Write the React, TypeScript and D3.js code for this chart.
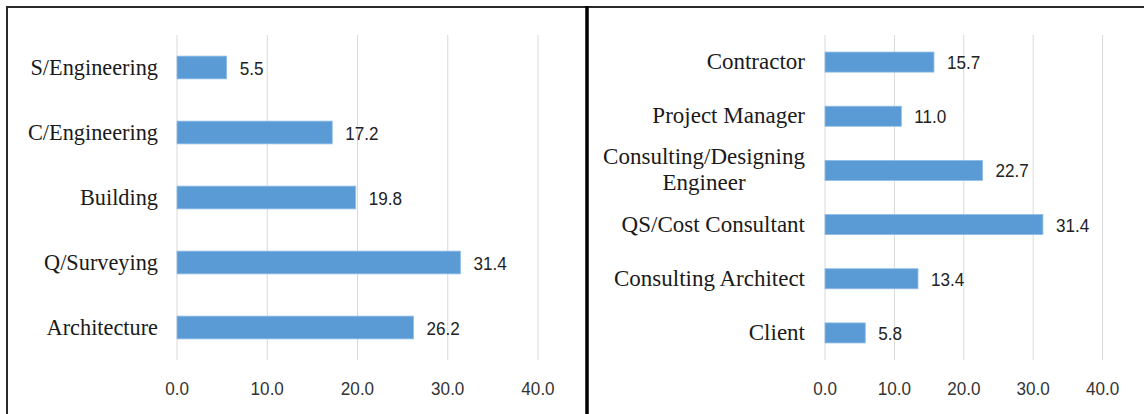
import React, { useEffect, useRef } from "react";
import * as d3 from "d3";

const leftCategories = ["S/Engineering", "C/Engineering", "Building", "Q/Surveying", "Architecture"];
const leftValues = [5.5, 17.2, 19.8, 31.4, 26.2];

const rightCategories = [
  "Contractor",
  "Project Manager",
  "Consulting/Designing Engineer",
  "QS/Cost Consultant",
  "Consulting Architect",
  "Client",
];
const rightValues = [15.7, 11.0, 22.7, 31.4, 13.4, 5.8];

const xTicks = [0, 10, 20, 30, 40];

const W = 1144;
const H = 414;
const SERIF = "'Liberation Serif', 'Times New Roman', serif";
const SANS = "'Liberation Sans', Arial, sans-serif";
const NUM_SIZE = 19;
const NUM_SCALE = 0.9;

interface Panel {
  cats: string[];
  vals: number[];
  x0: number;
  x1: number;
  yTop: number;
  yBot: number;
  barFrac: number;
  labelRight: number;
  catSize: number;
  catScale: number;
}

const panels: Panel[] = [
  { cats: leftCategories, vals: leftValues, x0: 177, x1: 538, yTop: 35, yBot: 360, barFrac: 0.35, labelRight: 158, catSize: 23, catScale: 0.97 },
  { cats: rightCategories, vals: rightValues, x0: 825, x1: 1102.6, yTop: 35, yBot: 360, barFrac: 0.37, labelRight: 805, catSize: 23, catScale: 1.0 },
];

export default function App() {
  const ref = useRef<SVGSVGElement | null>(null);

  useEffect(() => {
    const svg = d3.select(ref.current);
    svg.selectAll("*").remove();
    svg.append("rect").attr("width", W).attr("height", H).attr("fill", "#fff");

    panels.forEach((p) => {
      const x = d3.scaleLinear().domain([0, 40]).range([p.x0, p.x1]);
      const y = d3.scaleBand<string>().domain(p.cats).range([p.yTop, p.yBot]).padding(0);
      const g = svg.append("g");

      // gridlines
      g.selectAll("line.grid")
        .data(xTicks)
        .enter()
        .append("line")
        .attr("x1", (d) => x(d))
        .attr("x2", (d) => x(d))
        .attr("y1", p.yTop)
        .attr("y2", p.yBot)
        .attr("stroke", "#d9d9d9")
        .attr("stroke-width", 1);

      // tick labels
      g.selectAll("text.tick")
        .data(xTicks)
        .enter()
        .append("text")
        .attr("transform", (d) => `translate(${x(d)},395) scale(${NUM_SCALE},1)`)
        .attr("text-anchor", "middle")
        .attr("font-family", SANS)
        .attr("font-size", NUM_SIZE)
        .attr("fill", "#333")
        .text((d) => d.toFixed(1));

      const bh = y.bandwidth() * p.barFrac;
      // bars
      g.selectAll("rect.bar")
        .data(p.cats)
        .enter()
        .append("rect")
        .attr("x", x(0))
        .attr("y", (c) => (y(c) as number) + y.bandwidth() / 2 - bh / 2)
        .attr("width", (_c, i) => x(p.vals[i]) - x(0))
        .attr("height", bh)
        .attr("fill", "#5B9BD5")
        .attr("stroke", "#8FBCE6")
        .attr("stroke-width", 0.8);

      // value labels
      g.selectAll("text.val")
        .data(p.cats)
        .enter()
        .append("text")
        .attr("transform", (c, i) => `translate(${x(p.vals[i]) + 13},${(y(c) as number) + y.bandwidth() / 2 + 7}) scale(${NUM_SCALE},1)`)
        .attr("font-family", SANS)
        .attr("font-size", NUM_SIZE)
        .attr("fill", "#222")
        .text((_c, i) => p.vals[i].toFixed(1));

      // category labels with wrapping
      p.cats.forEach((c) => {
        const cy = (y(c) as number) + y.bandwidth() / 2;
        const words = c.split(" ");
        const maxW = 215;
        const measure = (s: string) => {
          const t = g
            .append("text")
            .attr("font-family", SERIF)
            .attr("font-size", p.catSize)
            .text(s);
          const w = (t.node() as SVGTextElement).getComputedTextLength() * p.catScale;
          t.remove();
          return w;
        };
        const lines: string[] = [];
        let cur = "";
        words.forEach((w) => {
          const test = cur ? cur + " " + w : w;
          if (cur && measure(test) > maxW) {
            lines.push(cur);
            cur = w;
          } else cur = test;
        });
        if (cur) lines.push(cur);
        const widths = lines.map(measure);
        const blockW = Math.max(...widths);
        const lh = 26;
        lines.forEach((ln, k) => {
          const ly = cy + (k - (lines.length - 1) / 2) * lh + 7;
          const anchorX = lines.length > 1 ? p.labelRight - blockW / 2 : p.labelRight;
          g.append("text")
            .attr("transform", `translate(${anchorX},${ly}) scale(${p.catScale},1)`)
            .attr("text-anchor", lines.length > 1 ? "middle" : "end")
            .attr("font-family", SERIF)
            .attr("font-size", p.catSize)
            .attr("fill", "#1a1a1a")
            .text(ln);
        });
      });
    });

    // borders
    svg.append("line").attr("x1", 7).attr("x2", W).attr("y1", 7).attr("y2", 7).attr("stroke", "#2a2a2a").attr("stroke-width", 2);
    svg.append("line").attr("x1", 7).attr("x2", 7).attr("y1", 6).attr("y2", H).attr("stroke", "#2a2a2a").attr("stroke-width", 2);
    svg.append("line").attr("x1", 587).attr("x2", 587).attr("y1", 6).attr("y2", H).attr("stroke", "#000").attr("stroke-width", 3.5);
  }, []);

  return (
    <div style={{ position: "absolute", left: 0, top: 0 }}>
      <svg ref={ref} width={W} height={H} style={{ display: "block" }} />
    </div>
  );
}
